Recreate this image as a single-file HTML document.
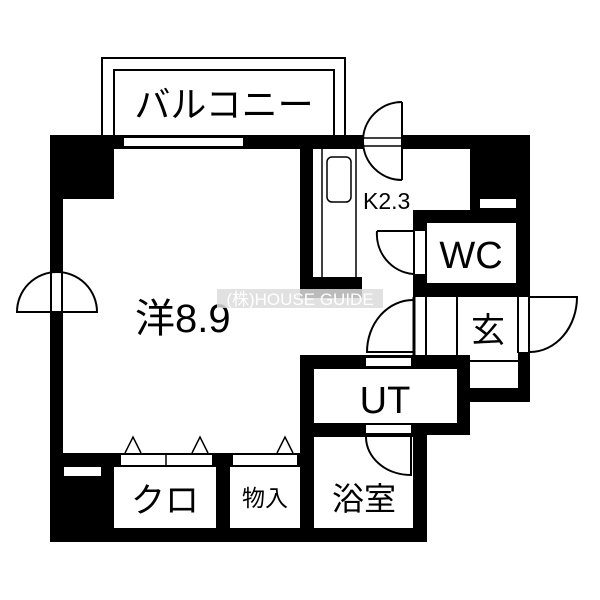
<!DOCTYPE html>
<html><head><meta charset="utf-8"><style>
html,body{margin:0;padding:0;background:#fff;}
svg{display:block;}
text{font-family:"Liberation Sans","Noto Sans CJK JP",sans-serif;fill:#000;}
</style></head><body>
<svg width="600" height="600" viewBox="0 0 600 600" xmlns="http://www.w3.org/2000/svg">
<rect width="600" height="600" fill="#fff"/>
<!-- balcony -->
<rect x="102" y="58" width="243" height="80" fill="none" stroke="#000" stroke-width="2"/>
<rect x="114" y="70" width="220" height="68" fill="none" stroke="#000" stroke-width="2"/>
<text x="224" y="117" font-size="36" text-anchor="middle">バルコニー</text>
<!-- top wall -->
<rect x="50" y="135" width="480" height="14" fill="#000"/>
<rect x="124" y="138" width="119" height="8" fill="#fff"/>
<rect x="363" y="135" width="39" height="14" fill="#fff"/>
<line x1="363" y1="138" x2="402" y2="138" stroke="#000" stroke-width="1.5"/>
<line x1="363" y1="146" x2="402" y2="146" stroke="#000" stroke-width="1.5"/>
<path d="M402 102 A39 39 0 0 0 402 180" fill="none" stroke="#000" stroke-width="2"/>
<line x1="402" y1="102" x2="402" y2="180" stroke="#000" stroke-width="2"/>
<!-- left wall -->
<rect x="50" y="135" width="64" height="64" fill="#000"/>
<rect x="50" y="135" width="13" height="407" fill="#000"/>
<rect x="50" y="272" width="13" height="40" fill="#fff"/>
<line x1="51" y1="272" x2="51" y2="312" stroke="#000" stroke-width="2"/>
<line x1="62" y1="272" x2="62" y2="312" stroke="#000" stroke-width="2"/>
<path d="M17 312 A40 40 0 0 1 97 312 Z" fill="none" stroke="#000" stroke-width="2"/>
<!-- kitchen counter wall -->
<rect x="300" y="148" width="13" height="150" fill="#000"/>
<rect x="300" y="277" width="62" height="21" fill="#000"/>
<line x1="322" y1="148" x2="322" y2="277" stroke="#000" stroke-width="1.5"/>
<line x1="356" y1="148" x2="356" y2="277" stroke="#000" stroke-width="1.5"/>
<rect x="327" y="157" width="24" height="45" rx="5" fill="none" stroke="#000" stroke-width="1.5"/>
<text x="363" y="209" font-size="23">K2.3</text>
<!-- top right block -->
<rect x="470" y="135" width="60" height="76" fill="#000"/>
<rect x="480" y="199" width="36" height="9" fill="#fff"/>
<!-- WC -->
<rect x="413" y="210" width="117" height="87" fill="#000"/>
<rect x="427" y="223" width="89" height="60" fill="#fff"/>
<rect x="413" y="231" width="14" height="43" fill="#fff"/>
<line x1="414" y1="231" x2="414" y2="274" stroke="#000" stroke-width="2"/>
<line x1="426" y1="231" x2="426" y2="274" stroke="#000" stroke-width="2"/>
<path d="M377 231 L413 231 M377 231 A40 40 0 0 0 413 274" fill="none" stroke="#000" stroke-width="2"/>
<text x="471" y="268" font-size="38" text-anchor="middle">WC</text>
<!-- genkan -->
<line x1="414" y1="297" x2="414" y2="356" stroke="#000" stroke-width="3"/>
<line x1="426" y1="297" x2="426" y2="356" stroke="#000" stroke-width="2"/>
<line x1="457" y1="297" x2="457" y2="361" stroke="#000" stroke-width="2"/>
<line x1="518" y1="297" x2="518" y2="353" stroke="#000" stroke-width="2"/>
<line x1="529" y1="297" x2="529" y2="353" stroke="#000" stroke-width="2"/>
<path d="M530 297 L577 297 A47 55 0 0 1 530 352" fill="none" stroke="#000" stroke-width="2"/>
<path d="M413 300 A46 52 0 0 0 367 352 L413 352" fill="none" stroke="#000" stroke-width="2"/>
<text x="488" y="342" font-size="34" text-anchor="middle">玄</text>
<rect x="518" y="352" width="12" height="50" fill="#000"/>
<rect x="458" y="388" width="72" height="14" fill="#000"/>
<line x1="470" y1="361" x2="518" y2="361" stroke="#000" stroke-width="2"/>
<!-- UT -->
<rect x="300" y="355" width="170" height="80" fill="#000"/>
<rect x="314" y="369" width="143" height="54" fill="#fff"/>
<rect x="366" y="358" width="45" height="8" fill="#fff"/>
<text x="385" y="413" font-size="38" text-anchor="middle">UT</text>
<!-- bath -->
<rect x="300" y="423" width="127" height="119" fill="#000"/>
<rect x="314" y="437" width="99" height="91" fill="#fff"/>
<rect x="366" y="425" width="45" height="8" fill="#fff"/>
<path d="M366 437 A45 38 0 0 0 411 475 L411 437" fill="none" stroke="#000" stroke-width="2"/>
<text x="364" y="510" font-size="32" text-anchor="middle">浴室</text>
<!-- bottom -->
<rect x="50" y="453" width="250" height="14" fill="#000"/>
<rect x="50" y="453" width="64" height="89" fill="#000"/>
<rect x="64" y="467" width="37" height="9" fill="#fff"/>
<rect x="50" y="528" width="377" height="14" fill="#000"/>
<rect x="216" y="453" width="14" height="89" fill="#000"/>
<rect x="121" y="455" width="91" height="10" fill="#fff"/>
<line x1="166" y1="455" x2="166" y2="465" stroke="#000" stroke-width="1.5"/>
<rect x="233" y="455" width="64" height="10" fill="#fff"/>
<path d="M125 453 L133 437 L141 453 M192 453 L200 437 L208 453 M277 453 L285 437 L293 453" fill="none" stroke="#000" stroke-width="1.5"/>
<text x="165" y="512" font-size="34" text-anchor="middle">クロ</text>
<text x="265" y="506" font-size="23" text-anchor="middle">物入</text>
<!-- room label -->
<text x="135" y="332" font-size="40">洋8.9</text>
<rect x="217" y="289" width="166" height="19" fill="#dcdcdc" opacity="0.85"/>
<text x="300" y="305" font-size="17" text-anchor="middle" style="fill:#fff">(株)HOUSE GUIDE</text>
</svg>
</body></html>
